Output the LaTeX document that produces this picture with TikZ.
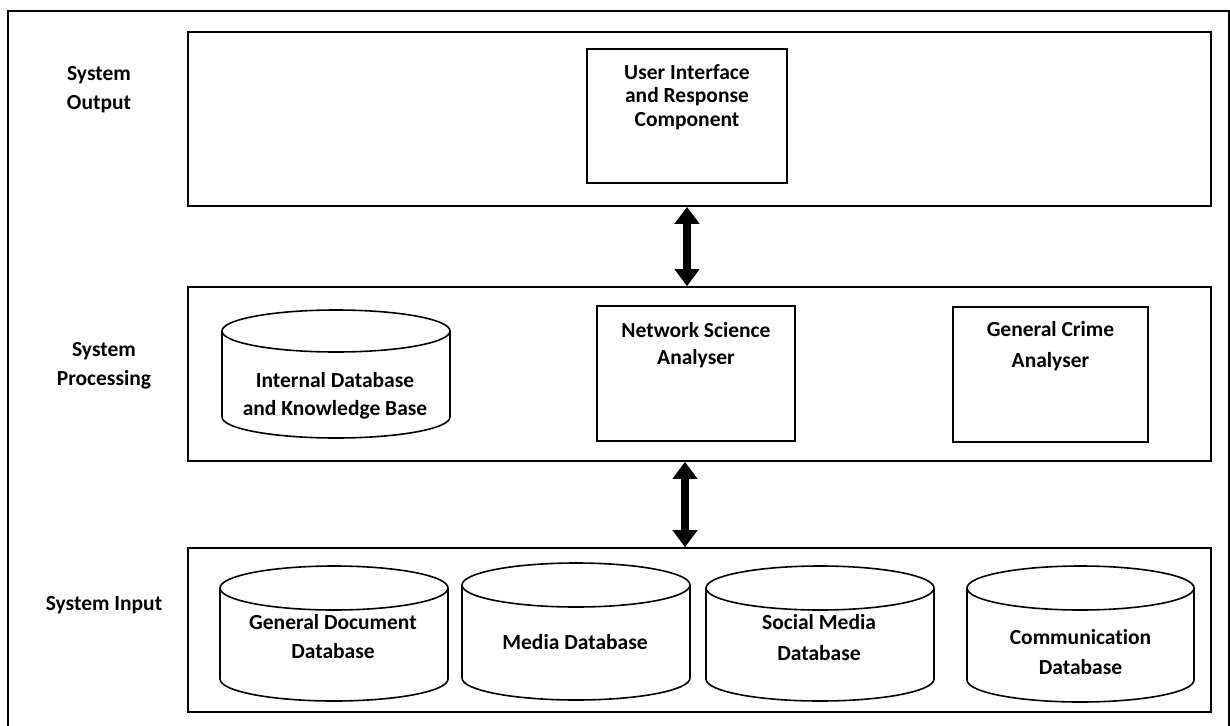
\documentclass[tikz,border=0pt]{standalone}
\usepackage{fontspec}
\setmainfont{Carlito}[Ligatures=NoCommon]
\usetikzlibrary{arrows.meta}
\newcommand\dbcyl[5]{% x1, ytop, x2, ybottom, ry
  \draw[cylline] ({#1},{#2+#5}) -- ({#1},{#4-#5})
    .. controls ({#1},{#4-#5+0.5523*#5}) and ({(#1+#3)/2-0.5523*(#3-#1)/2},{#4}) .. ({(#1+#3)/2},{#4})
    .. controls ({(#1+#3)/2+0.5523*(#3-#1)/2},{#4}) and ({#3},{#4-#5+0.5523*#5}) .. ({#3},{#4-#5})
    -- ({#3},{#2+#5});
  \draw[cylline] ({(#1+#3)/2},{#2+#5}) ellipse[x radius={(#3-#1)/2}, y radius={#5}];
}
\begin{document}
\begin{tikzpicture}[x=1pt,y=-1pt,
  panel/.style={draw, line width=1.6pt, minimum width=1023pt, minimum height=174pt, inner sep=0pt},
  boxnode/.style={draw, line width=1.6pt, inner sep=0pt},
  cylline/.style={line width=1.6pt},
  txt/.style={font=\bfseries\fontsize{21.5}{#1}\selectfont, align=center, inner sep=0pt},
  txt/.default=24,
  dblarrow/.style={line width=8pt, {Triangle[length=17pt,width=24pt]}-{Triangle[length=17pt,width=24pt]}}]
\useasboundingbox (0,0) rectangle (1230,725);
\begin{scope}
\clip (0,0) rectangle (1230,725);
\draw[line width=2.2pt] (8,760) -- (8,11) -- (1229,11) -- (1229,760);
\end{scope}

% panels
\node[panel] (out) at (699.5,119) {};
\node[panel] (proc) at (699.5,374) {};
\node[panel, minimum height=164pt] (inp) at (699.5,630) {};

% side labels
\node[txt=29] (lout) at (99,90) {System\\Output};
\node[txt=29] (lproc) at (104,366) {System\\Processing};
\node[txt] (linp) at (104,605) {System Input};

% output
\node[boxnode, minimum width=200pt, minimum height=134pt] (ui) at (687,116) {};
\node[txt=23.5] (uit) at (687,97) {User Interface\\and Response\\Component};

% processing
\dbcyl{222}{310}{450}{438}{21}
\node[txt=28] (idb) at (335,396) {Internal Database\\and Knowledge Base};
\node[boxnode, minimum width=198pt, minimum height=135pt] (nsa) at (696,373.5) {};
\node[txt=27] (nsat) at (696,345) {Network Science\\Analyser};
\node[boxnode, minimum width=195pt, minimum height=135pt] (gca) at (1050.5,374.5) {};
\node[txt=31] (gcat) at (1050.5,346.5) {General Crime\\Analyser};

% input
\dbcyl{220}{566}{448}{701}{22}
\node[txt=29] (gdd) at (333,636.5) {General Document\\Database};
\dbcyl{462}{563}{690}{700}{22}
\node[txt] (med) at (575,642) {Media Database};
\dbcyl{706}{566}{934}{701}{22}
\node[txt=31] (soc) at (819,637.5) {Social Media\\Database};
\dbcyl{967}{566}{1194}{702}{22}
\node[txt=30] (com) at (1080.5,652) {Communication\\Database};

% arrows
\draw[dblarrow] ([xshift=-12.5pt]out.south) -- ([xshift=-12.5pt]proc.north);
\draw[dblarrow] ([xshift=-14.5pt]proc.south) -- ([xshift=-14.5pt]inp.north);
\end{tikzpicture}
\end{document}
